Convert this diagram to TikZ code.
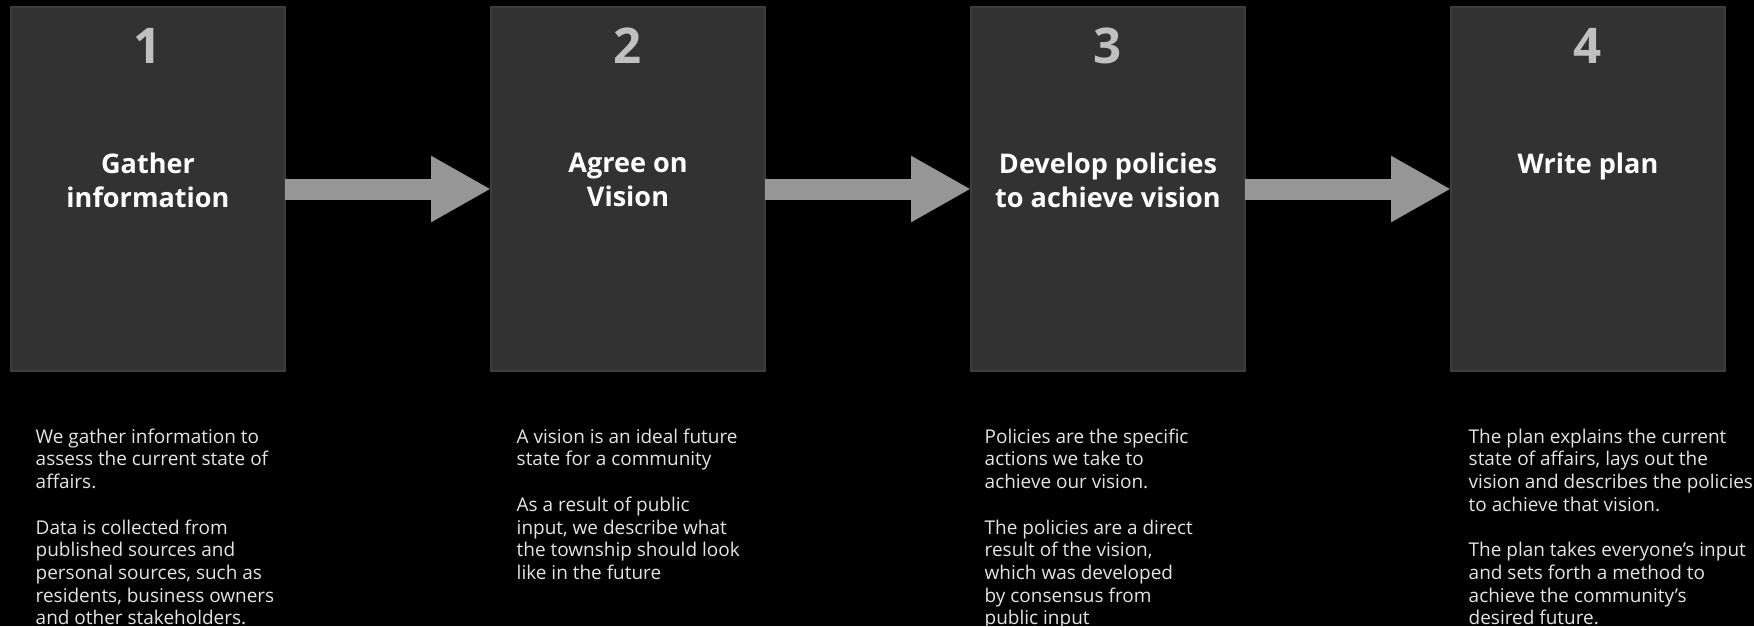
\documentclass[tikz,border=0pt]{standalone}
\usepackage{fontspec}
\setmainfont{Open Sans}
\usepackage{xcolor}
\usepackage{tikz}
\usetikzlibrary{arrows.meta, positioning}
\definecolor{boxfill}{RGB}{50,50,50}
\definecolor{boxedge}{RGB}{62,62,62}
\definecolor{arrowgray}{RGB}{150,150,150}
\definecolor{numgray}{RGB}{192,192,192}
\definecolor{textgray}{RGB}{228,228,228}

\begin{document}
\begin{tikzpicture}[
    node distance=2.06cm,
    stepbox/.style={rectangle, draw=boxedge, fill=boxfill, line width=0.6pt, minimum width=2.74cm, minimum height=3.64cm, inner sep=0pt, outer sep=0pt},
    num/.style={inner sep=0pt, text=numgray, font=\fontsize{14}{16}\selectfont\bfseries},
    title/.style={inner sep=0pt, anchor=north, align=center, text=white, font=\fontsize{7.7}{9.7}\selectfont\bfseries},
    desc/.style={inner sep=0pt, anchor=north west, align=left, text=textgray, font=\fontsize{5.4}{6.46}\selectfont},
    flow/.style={arrowgray, line width=0.21cm, -{Triangle[length=0.6cm, width=0.62cm]}}
]

% Background
\fill[black] (0,0) rectangle (17.54,-6.26);
\useasboundingbox (0,0) rectangle (17.54,-6.26);

% Steps
\node[stepbox, anchor=north west] (box1) at (0.11,-0.07) {};
\node[stepbox, right=of box1] (box2) {};
\node[stepbox, right=of box2] (box3) {};
\node[stepbox, right=of box3] (box4) {};

% Numbers
\node[num] (n1) at ([yshift=-0.39cm]box1.north) {1};
\node[num] (n2) at ([yshift=-0.39cm]box2.north) {2};
\node[num] (n3) at ([yshift=-0.39cm]box3.north) {3};
\node[num] (n4) at ([yshift=-0.39cm]box4.north) {4};

% Titles
\node[title] (t1) at ([yshift=-1.45cm]box1.north) {Gather\\information};
\node[title] (t2) at ([yshift=-1.45cm]box2.north) {Agree on\\Vision};
\node[title] (t3) at ([yshift=-1.45cm]box3.north) {Develop policies\\to achieve vision};
\node[title] (t4) at ([yshift=-1.45cm]box4.north) {Write plan};

% Arrows
\draw[flow] (box1) -- (box2);
\draw[flow] (box2) -- (box3);
\draw[flow] (box3) -- (box4);

% Descriptions
\node[desc] (d1) at (0.35,-4.28) {We gather information to\\assess the current state of\\affairs.\\[6.46pt]Data is collected from\\published sources and\\personal sources, such as\\residents, business owners\\and other stakeholders.};
\node[desc] (d2) at (5.16,-4.28) {A vision is an ideal future\\state for a community\\[6.46pt]As a result of public\\input, we describe what\\the township should look\\like in the future};
\node[desc] (d3) at (9.84,-4.28) {Policies are the specific\\actions we take to\\achieve our vision.\\[6.46pt]The policies are a direct\\result of the vision,\\which was developed\\by consensus from\\public input};
\node[desc] (d4) at (14.68,-4.28) {The plan explains the current\\state of affairs, lays out the\\vision and describes the policies\\to achieve that vision.\\[6.46pt]The plan takes everyone’s input\\and sets forth a method to\\achieve the community’s\\desired future.};

\end{tikzpicture}
\end{document}
